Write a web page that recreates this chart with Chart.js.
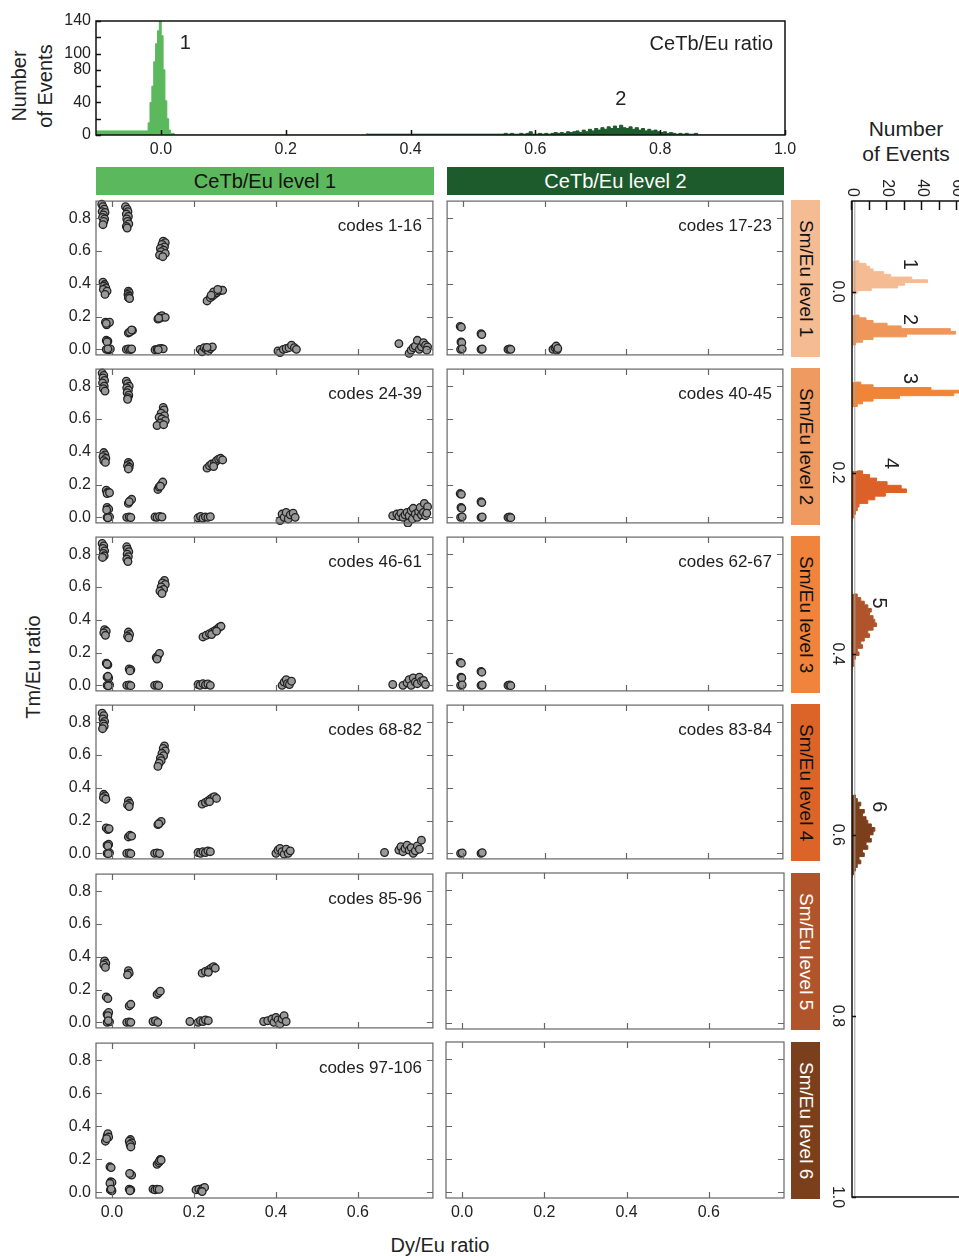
<!DOCTYPE html>
<html>
<head>
<meta charset="utf-8">
<script src="https://cdn.jsdelivr.net/npm/chart.js@4.4.1/dist/chart.umd.min.js"></script>
<style>
  body { margin: 0; background: #fff; overflow: hidden; }
  #page { position: relative; width: 959px; height: 1256px; overflow: hidden;
          font-family: "Liberation Sans", Arial, sans-serif; color: #222; }
  #page canvas { position: absolute; }
  .band { position: absolute; display: flex; align-items: center; justify-content: center; font-size: 20px; }
  .sm { position: absolute; left: 791px; width: 29px; height: 157px; writing-mode: vertical-rl;
        display: flex; align-items: center; justify-content: center; font-size: 19px; }
  .title { position: absolute; font-size: 20px; text-align: center; white-space: nowrap; }
</style>
</head>
<body>
<div id="page">
  <div class="title" style="left:-28px; top:60px; width:120px; line-height:26px; transform:rotate(-90deg);">Number<br>of Events</div>
  <div class="title" style="left:846px; top:116px; width:120px; line-height:25px; font-size:21px;">Number<br>of Events</div>
  <div class="title" style="left:-32px; top:655px; width:130px; line-height:24px; transform:rotate(-90deg);">Tm/Eu ratio</div>
  <div class="title" style="left:375px; top:1233px; width:130px; line-height:24px;">Dy/Eu ratio</div>

  <div class="band" style="left:96px; top:167px; width:338px; height:28px; background:#5cb85c; color:#111;">CeTb/Eu level 1</div>
  <div class="band" style="left:447px; top:167px; width:337px; height:28px; background:#1d5a2c; color:#fff;">CeTb/Eu level 2</div>

  <div class="sm" style="top:200px;  background:#f5bc94; color:#111;">Sm/Eu level 1</div>
  <div class="sm" style="top:368px;  background:#ee9a60; color:#111;">Sm/Eu level 2</div>
  <div class="sm" style="top:536px;  background:#f0843c; color:#111;">Sm/Eu level 3</div>
  <div class="sm" style="top:704px;  background:#dc6429; color:#111;">Sm/Eu level 4</div>
  <div class="sm" style="top:873px;  background:#b0552b; color:#fff;">Sm/Eu level 5</div>
  <div class="sm" style="top:1042px; background:#7b3f1b; color:#fff;">Sm/Eu level 6</div>
</div>
<script>
// CeTb/Eu histogram (top)
const cetbPeak1Start = -0.0205;
const cetbPeak1Width = 0.003;
const cetbPeak1Counts = [5, 15, 40, 60, 90, 112, 128, 140, 122, 80, 42, 20, 6, 2];
const cetbPeak2Start = 0.55;
const cetbPeak2Width = 0.005;
const cetbPeak2Counts = [1, 2, 1, 2, 1, 1, 2, 1, 2, 4, 1, 1, 2, 1, 2, 1, 2, 3, 2, 3,
                         2, 4, 3, 4, 5, 3, 6, 4, 7, 5, 8, 6, 9, 7, 10, 8, 11, 8, 12, 9,
                         8, 10, 7, 9, 6, 8, 5, 7, 5, 6, 4, 3, 4, 2, 3, 2, 1, 2, 1, 2, 1, 1];
const cetbFloor = 2;          // scattered single events along the baseline
const cetbSplit = 0.33;       // boundary between level 1 and level 2
const cetbXTicks = [0, 0.2, 0.4, 0.6, 0.8, 1.0];
const cetbYTicks = [0, 20, 40, 60, 80, 100, 120, 140];
const cetbYLabels = [0, 40, 80, 100, 140];

// Sm/Eu histogram (right, drawn sideways)
const smeuStarts = [-0.034, 0.026, 0.100, 0.198, 0.334, 0.556];
const smeuWidths = [0.003, 0.003, 0.003, 0.004, 0.004, 0.004];
const smeuCounts1 = [2, 4, 8, 10, 12, 18, 22, 34, 43, 30, 26, 11, 3];
const smeuCounts2 = [2, 4, 8, 12, 20, 28, 56, 59, 31, 12, 6, 2];
const smeuCounts3 = [2, 5, 12, 45, 66, 58, 27, 12, 6, 3];
const smeuCounts4 = [3, 6, 10, 14, 20, 28, 31, 19, 13, 9, 4, 3, 2, 1];
const smeuCounts5 = [1, 3, 5, 7, 9, 11, 10, 12, 13, 14, 12, 9, 10, 7, 5, 6, 3, 4, 2, 1, 1];
const smeuCounts6 = [1, 2, 3, 5, 4, 7, 6, 8, 9, 11, 13, 12, 10, 11, 8, 9, 6, 7, 4, 5, 3, 2, 1];
const smeuColors = ['#f5bc94', '#ef965a', '#f08437', '#dc6128', '#b0552b', '#7b3f1b'];
const smeuLabelRatio = [-0.030, 0.031, 0.096, 0.190, 0.344, 0.569];
const smeuLabelCount = [33, 33, 33, 22, 15, 15];
const smeuRatioTicks = [0, 0.2, 0.4, 0.6, 0.8, 1.0];
const smeuCountTicks = [0, 10, 20, 30, 40, 50, 60, 70, 80, 90];

// Dy/Eu vs Tm/Eu scatter panels, one list of [Dy/Eu, Tm/Eu] per code group
const dyTicks = [0, 0.2, 0.4, 0.6];
const tmTicks = [0, 0.2, 0.4, 0.6, 0.8];

const codes1to16 = [
  [-0.025,0.885],[-0.022,0.87],[-0.019,0.855],[-0.024,0.84],[-0.017,0.835],[-0.021,0.82],[-0.023,0.805],[-0.018,0.795],[-0.02,0.78],[-0.022,0.76],
  [0.033,0.87],[0.037,0.855],[0.039,0.84],[0.035,0.825],[0.04,0.81],[0.036,0.795],[0.038,0.78],[0.041,0.765],[0.035,0.75],[0.037,0.74],
  [0.125,0.66],[0.13,0.65],[0.122,0.64],[0.128,0.625],[0.118,0.615],[0.126,0.605],[0.12,0.595],[0.13,0.585],[0.116,0.575],[0.124,0.565],
  [-0.022,0.41],[-0.018,0.395],[-0.02,0.385],[-0.015,0.375],[-0.021,0.365],[-0.012,0.355],[-0.017,0.335],
  [0.04,0.355],[0.042,0.345],[0.039,0.335],[0.041,0.325],[0.04,0.315],[0.043,0.31],
  [0.232,0.295],[0.24,0.315],[0.245,0.325],[0.25,0.335],[0.255,0.345],[0.26,0.355],[0.265,0.36],[0.27,0.36],[0.248,0.35],[0.258,0.365],[0.242,0.33],
  [-0.016,0.165],[-0.01,0.16],[-0.013,0.15],[-0.006,0.165],[-0.014,0.158],
  [0.04,0.1],[0.045,0.11],[0.05,0.115],[0.043,0.105],[0.048,0.118],
  [0.112,0.185],[0.117,0.2],[0.122,0.205],[0.118,0.19],[0.13,0.195],[0.114,0.19],
  [-0.014,0.055],[-0.01,0.05],[-0.012,0.045],
  [-0.014,0.0],[-0.008,-0.003],[-0.004,0.002],[-0.01,0.003],
  [0.035,0.0],[0.04,0.003],[0.045,-0.002],[0.048,0.002],
  [0.105,-0.003],[0.11,0.0],[0.115,0.004],[0.12,0.006],[0.125,0.003],[0.113,-0.002],
  [0.215,0.0],[0.22,-0.015],[0.225,0.01],[0.23,0.0],[0.235,-0.01],[0.24,0.005],[0.245,0.015],[0.232,0.012],
  [0.405,-0.01],[0.41,-0.02],[0.418,0.0],[0.425,0.005],[0.432,0.01],[0.438,0.025],[0.445,0.01],[0.45,0.0],
  [0.7,0.035],[0.725,-0.025],[0.73,-0.005],[0.735,0.01],[0.74,0.02],[0.745,0.055],[0.75,0.0],[0.755,0.015],[0.76,0.04],[0.765,0.025],[0.77,0.015],[0.768,-0.005]
];
const codes17to23 = [
  [-0.007,0.14],[-0.004,0.135],[-0.005,0.045],[-0.003,0.04],[-0.006,0.0],[-0.002,0.003],
  [0.044,0.095],[0.046,0.09],[0.044,0.0],[0.047,0.002],
  [0.11,0.0],[0.114,0.003],[0.117,0.0],
  [0.22,0.0],[0.225,0.01],[0.23,-0.005],[0.228,0.02],[0.232,0.005]
];
const codes24to39 = [
  [-0.024,0.88],[-0.02,0.865],[-0.022,0.85],[-0.018,0.835],[-0.023,0.82],[-0.019,0.8],[-0.021,0.785],[-0.017,0.77],
  [0.035,0.83],[0.038,0.815],[0.042,0.8],[0.036,0.79],[0.04,0.775],[0.037,0.76],[0.041,0.745],[0.039,0.73],[0.038,0.72],
  [0.125,0.67],[0.127,0.655],[0.12,0.635],[0.128,0.62],[0.115,0.61],[0.122,0.6],[0.13,0.59],[0.118,0.575],[0.11,0.56],[0.126,0.565],
  [-0.02,0.395],[-0.017,0.38],[-0.022,0.37],[-0.015,0.36],[-0.02,0.345],[-0.016,0.335],
  [0.04,0.335],[0.043,0.325],[0.038,0.315],[0.042,0.305],[0.04,0.295],
  [0.232,0.3],[0.238,0.315],[0.243,0.325],[0.25,0.33],[0.255,0.345],[0.26,0.355],[0.265,0.36],[0.27,0.35],[0.248,0.31],
  [-0.014,0.165],[-0.01,0.155],[-0.012,0.145],[-0.006,0.15],
  [0.04,0.085],[0.044,0.1],[0.048,0.11],[0.042,0.095],
  [0.112,0.17],[0.115,0.185],[0.12,0.2],[0.124,0.215],[0.118,0.19],
  [-0.012,0.06],[-0.008,0.05],[-0.013,0.045],
  [-0.012,0.0],[-0.006,0.003],[-0.01,-0.003],
  [0.036,0.0],[0.042,0.003],[0.046,-0.001],
  [0.105,0.002],[0.11,0.0],[0.116,0.005],[0.122,0.002],
  [0.21,-0.003],[0.216,0.005],[0.222,-0.005],[0.228,0.003],[0.234,0.0],[0.24,0.004],
  [0.41,-0.02],[0.415,0.02],[0.42,0.0],[0.425,0.03],[0.43,-0.01],[0.435,0.015],[0.442,0.025],[0.447,0.0],
  [0.685,0.01],[0.695,0.02],[0.7,0.005],[0.705,0.025],[0.71,0.0],[0.715,0.015],[0.72,0.03],[0.722,-0.035],[0.725,0.01],[0.73,0.04],[0.733,-0.01],
  [0.735,0.055],[0.74,0.02],[0.745,0.0],[0.748,0.035],[0.752,0.06],[0.755,0.015],[0.76,0.03],[0.762,0.085],[0.765,0.01],[0.77,0.065],[0.768,0.025]
];
const codes40to45 = [
  [-0.007,0.145],[-0.004,0.14],[-0.005,0.06],[-0.003,0.055],[-0.006,0.0],[-0.002,0.003],
  [0.044,0.095],[0.046,0.09],[0.044,0.0],[0.047,0.002],
  [0.11,0.0],[0.114,0.003],[0.117,-0.002]
];
const codes46to61 = [
  [-0.024,0.865],[-0.02,0.85],[-0.022,0.835],[-0.018,0.82],[-0.021,0.805],[-0.019,0.79],[-0.023,0.78],
  [0.036,0.845],[0.038,0.83],[0.041,0.815],[0.037,0.8],[0.04,0.785],[0.036,0.77],[0.039,0.755],
  [0.128,0.64],[0.123,0.625],[0.13,0.615],[0.12,0.6],[0.126,0.585],[0.117,0.575],[0.122,0.56],
  [-0.018,0.34],[-0.014,0.33],[-0.02,0.32],[-0.016,0.305],
  [0.04,0.325],[0.043,0.31],[0.038,0.3],[0.041,0.29],
  [0.222,0.295],[0.23,0.305],[0.238,0.315],[0.245,0.325],[0.252,0.335],[0.258,0.345],[0.262,0.355],[0.266,0.36],[0.243,0.31],[0.255,0.33],
  [-0.014,0.135],[-0.01,0.125],[-0.012,0.13],
  [0.042,0.1],[0.046,0.095],[0.044,0.088],
  [0.108,0.17],[0.112,0.18],[0.116,0.195],[0.11,0.16],
  [-0.012,0.05],[-0.008,0.045],[-0.01,0.055],
  [-0.012,0.0],[-0.006,0.002],[-0.009,-0.003],
  [0.036,0.0],[0.042,0.002],[0.046,-0.002],
  [0.104,0.0],[0.11,0.002],[0.114,-0.002],
  [0.21,0.005],[0.215,0.0],[0.222,0.01],[0.228,0.003],[0.234,0.008],[0.24,0.0],
  [0.415,0.0],[0.42,0.02],[0.425,0.035],[0.428,0.01],[0.433,0.005],[0.438,0.025],
  [0.685,0.005],[0.71,0.0],[0.72,0.015],[0.725,0.035],[0.73,0.0],[0.735,0.045],[0.74,0.02],[0.745,0.01],[0.75,0.05],[0.755,0.025],[0.76,0.03],[0.765,0.005]
];
const codes62to67 = [
  [-0.007,0.14],[-0.004,0.135],[-0.005,0.05],[-0.003,0.045],[-0.006,0.0],[-0.002,0.003],
  [0.044,0.085],[0.046,0.08],[0.044,0.0],[0.047,0.002],
  [0.11,0.0],[0.114,0.003],[0.117,-0.002]
];
const codes68to82 = [
  [-0.024,0.855],[-0.02,0.84],[-0.022,0.82],[-0.018,0.805],[-0.021,0.79],[-0.019,0.775],[-0.023,0.76],
  [0.128,0.655],[0.125,0.64],[0.13,0.625],[0.122,0.61],[0.126,0.595],[0.118,0.58],[0.12,0.565],[0.115,0.55],[0.112,0.53],
  [-0.02,0.36],[-0.017,0.35],[-0.021,0.34],[-0.015,0.33],
  [0.04,0.32],[0.043,0.305],[0.038,0.295],[0.042,0.285],
  [0.22,0.3],[0.228,0.31],[0.234,0.32],[0.24,0.33],[0.245,0.34],[0.25,0.345],[0.255,0.335],[0.238,0.315],
  [-0.014,0.155],[-0.01,0.145],[-0.007,0.15],
  [0.04,0.1],[0.044,0.11],[0.048,0.105],
  [0.112,0.175],[0.116,0.185],[0.12,0.195],[0.114,0.18],
  [-0.012,0.05],[-0.008,0.055],[-0.01,0.045],
  [-0.012,0.0],[-0.006,0.003],[-0.009,-0.002],
  [0.036,0.0],[0.042,0.002],[0.046,-0.002],
  [0.104,0.0],[0.11,0.003],[0.116,-0.001],
  [0.21,0.005],[0.216,0.0],[0.222,0.01],[0.228,0.005],[0.234,0.015],[0.24,0.01],
  [0.4,0.0],[0.405,0.02],[0.41,0.03],[0.415,0.01],[0.42,-0.005],[0.425,0.025],[0.43,0.0],[0.435,0.015],
  [0.665,0.005],[0.7,0.02],[0.705,0.04],[0.71,0.01],[0.715,0.03],[0.72,0.05],[0.725,0.02],[0.73,0.035],[0.735,0.0],[0.74,0.015],[0.745,0.045],[0.75,0.025],[0.755,0.08]
];
const codes83to84 = [[-0.006,0.0],[-0.002,0.003],[0.044,0.0],[0.047,0.004]];
const codes85to96 = [
  [-0.018,0.375],[-0.015,0.36],[-0.02,0.35],[-0.016,0.335],
  [0.04,0.315],[0.042,0.3],[0.038,0.29],
  [0.22,0.3],[0.228,0.31],[0.236,0.32],[0.242,0.33],[0.248,0.34],[0.252,0.33],[0.235,0.305],
  [-0.014,0.155],[-0.01,0.145],
  [0.042,0.1],[0.046,0.11],
  [0.11,0.17],[0.114,0.18],[0.118,0.19],
  [-0.012,0.05],[-0.008,0.06],[-0.01,0.04],
  [-0.012,0.0],[-0.006,0.003],[-0.009,0.01],
  [0.036,0.0],[0.042,0.003],[0.046,0.0],
  [0.1,0.005],[0.106,0.01],[0.112,0.0],
  [0.19,0.005],[0.21,0.0],[0.216,0.01],[0.222,0.005],[0.228,0.015],[0.235,0.01],
  [0.37,0.005],[0.38,0.01],[0.39,0.02],[0.395,0.0],[0.4,0.03],[0.405,0.015],[0.41,-0.01],[0.415,0.02],[0.42,0.04],[0.425,0.005]
];
const codes97to106 = [
  [-0.016,0.31],[-0.012,0.34],[-0.01,0.355],[-0.008,0.335],[-0.013,0.325],
  [0.045,0.32],[0.042,0.31],[0.048,0.3],[0.044,0.29],[0.046,0.275],
  [0.11,0.17],[0.114,0.18],[0.118,0.2],[0.116,0.19],[0.12,0.195],
  [-0.005,0.155],[-0.002,0.15],
  [-0.003,0.065],[0.0,0.06],[-0.005,0.055],
  [-0.004,0.015],[0.0,0.01],[-0.002,0.02],
  [0.045,0.11],[0.048,0.105],[0.043,0.115],
  [0.042,0.02],[0.046,0.015],[0.044,0.01],
  [0.1,0.02],[0.105,0.015],[0.11,0.02],[0.115,0.018],
  [0.205,0.015],[0.212,0.02],[0.218,0.01],[0.222,0.025],[0.226,0.03],[0.22,0.005]
];

const panelRows = [
  [[codes1to16, 'codes 1-16'], [codes17to23, 'codes 17-23']],
  [[codes24to39, 'codes 24-39'], [codes40to45, 'codes 40-45']],
  [[codes46to61, 'codes 46-61'], [codes62to67, 'codes 62-67']],
  [[codes68to82, 'codes 68-82'], [codes83to84, 'codes 83-84']],
  [[codes85to96, 'codes 85-96'], [[], '']],
  [[codes97to106, 'codes 97-106'], [[], '']]
];

Chart.defaults.font.family = '"Liberation Sans", Arial, sans-serif';
Chart.defaults.font.size = 16;
Chart.defaults.color = '#222';

const page = document.getElementById('page');

// box frame with inward tick marks taken from each scale's ticks
const frameTicks = {
  id: 'frameTicks',
  afterDatasetsDraw(chart, args, opts) {
    const { ctx, chartArea: a, scales: { x, y } } = chart;
    ctx.save();
    ctx.strokeStyle = opts.color;
    ctx.lineWidth = opts.width;
    ctx.beginPath();
    x.ticks.forEach(t => {
      const px = Math.round(x.getPixelForValue(t.value)) + 0.5;
      ctx.moveTo(px, a.bottom); ctx.lineTo(px, a.bottom - opts.lenX);
      if (opts.mirror) { ctx.moveTo(px, a.top); ctx.lineTo(px, a.top + opts.lenX); }
    });
    y.ticks.forEach(t => {
      const py = Math.round(y.getPixelForValue(t.value)) + 0.5;
      ctx.moveTo(a.left, py); ctx.lineTo(a.left + opts.lenY, py);
      if (opts.mirror) { ctx.moveTo(a.right, py); ctx.lineTo(a.right - opts.lenY, py); }
    });
    ctx.stroke();
    ctx.strokeRect(a.left, a.top, a.right - a.left, a.bottom - a.top);
    ctx.restore();
  }
};

// free text, either at data coordinates or from the top-right corner
const textMarks = {
  id: 'textMarks',
  afterDatasetsDraw(chart, args, opts) {
    const { ctx, chartArea: a, scales } = chart;
    (opts.items || []).forEach(it => {
      ctx.save();
      ctx.font = (it.size || 17) + 'px "Liberation Sans", Arial, sans-serif';
      ctx.fillStyle = '#222';
      ctx.textAlign = it.align || 'center';
      ctx.textBaseline = it.baseline || 'middle';
      let px, py;
      if (it.corner) { px = a.right - it.dx; py = a.top + it.dy; }
      else { px = scales.x.getPixelForValue(it.x); py = scales.y.getPixelForValue(it.y); }
      ctx.fillText(it.text, px, py);
      ctx.restore();
    });
  }
};

function addCanvas(left, top, width, height) {
  const c = document.createElement('canvas');
  c.width = width; c.height = height;
  c.style.left = left + 'px'; c.style.top = top + 'px';
  c.style.width = width + 'px'; c.style.height = height + 'px';
  page.appendChild(c);
  return c;
}

function useTicks(values) {
  return s => { s.ticks = values.map(v => ({ value: v })); };
}
function fixWidth(w) {
  return s => { s.width = w; s.paddingTop = 0; s.paddingBottom = 0; };
}
function fixHeight(h) {
  return s => { s.height = h; s.paddingLeft = 0; s.paddingRight = 0; };
}

function stepPoints(start, width, counts, floor) {
  const pts = counts.map((c, i) => ({ x: start + i * width, y: c }));
  pts.push({ x: start + counts.length * width, y: floor });
  return pts;
}

function histSet(data, color) {
  return { data, stepped: 'after', fill: 'origin', backgroundColor: color, borderColor: color,
           borderWidth: 1, pointRadius: 0 };
}

const baseOptions = {
  responsive: false, animation: false, devicePixelRatio: 1,
  events: []
};

// ---- top histogram ----
{
  const canvas = addCanvas(50, 10, 750, 150);
  const level1 = [{ x: -0.104, y: cetbFloor },
    ...stepPoints(cetbPeak1Start, cetbPeak1Width, cetbPeak1Counts, cetbFloor),
    { x: cetbSplit, y: 0 }];
  const level2 = [{ x: cetbSplit, y: cetbFloor },
    ...stepPoints(cetbPeak2Start, cetbPeak2Width, cetbPeak2Counts, cetbFloor),
    { x: 1.0, y: 0 }];
  new Chart(canvas, {
    type: 'line',
    data: { datasets: [histSet(level1, '#5cb85c'), histSet(level2, '#1d5a2c')] },
    options: {
      ...baseOptions,
      layout: { padding: { left: 0, right: 15, top: 11, bottom: 0 } },
      plugins: {
        legend: { display: false }, tooltip: { enabled: false },
        frameTicks: { color: '#111', width: 1.5, lenX: 5, lenY: 5, mirror: false },
        textMarks: { items: [
          { text: '1', x: 0.039, y: 113, size: 20 },
          { text: '2', x: 0.737, y: 44, size: 20 },
          { text: 'CeTb/Eu ratio', corner: true, dx: 12, dy: 29, align: 'right', baseline: 'alphabetic', size: 20 }
        ] }
      },
      scales: {
        x: { type: 'linear', min: -0.104, max: 1.0,
             grid: { display: false, drawTicks: false }, border: { display: false },
             ticks: { padding: 5, autoSkip: false, callback: v => v.toFixed(1) },
             afterBuildTicks: useTicks(cetbXTicks), afterFit: fixHeight(25) },
        y: { type: 'linear', min: 0, max: 140,
             grid: { display: false, drawTicks: false }, border: { display: false },
             ticks: { padding: 5, autoSkip: false, callback: v => cetbYLabels.includes(v) ? String(v) : '' },
             afterBuildTicks: useTicks(cetbYTicks), afterFit: fixWidth(46) }
      }
    },
    plugins: [frameTicks, textMarks]
  });
}

// ---- scatter grid ----
const rowTops = [200, 368, 536, 704, 873, 1042];
const colLefts = [96, 446];
const plotW = 338, plotH = 156;

panelRows.forEach((row, r) => {
  row.forEach(([points, label], c) => {
    const leftW = c === 0 ? 46 : 4;
    const botH = r === panelRows.length - 1 ? 30 : 4;
    const canvas = addCanvas(colLefts[c] - leftW, rowTops[r] - 4, leftW + plotW + 4, 4 + plotH + botH);
    new Chart(canvas, {
      type: 'scatter',
      data: { datasets: [{
        data: points.map(p => ({ x: p[0], y: p[1] })),
        pointRadius: 3.8, pointHoverRadius: 3.8,
        backgroundColor: '#999999', borderColor: '#222222', borderWidth: 1.3, clip: 4
      }] },
      options: {
        ...baseOptions,
        layout: { padding: { left: 0, right: 4, top: 4, bottom: 0 } },
        plugins: {
          legend: { display: false }, tooltip: { enabled: false },
          frameTicks: { color: '#666', width: 1.2, lenX: 6, lenY: 6, mirror: true },
          textMarks: { items: label ? [
            { text: label, corner: true, dx: 11, dy: 30, align: 'right', baseline: 'alphabetic', size: 17 }
          ] : [] }
        },
        scales: {
          x: { type: 'linear', min: -0.039, max: 0.783,
               grid: { display: false, drawTicks: false }, border: { display: false },
               ticks: { display: r === panelRows.length - 1, autoSkip: false, padding: 5, callback: v => v.toFixed(1) },
               afterBuildTicks: useTicks(dyTicks), afterFit: fixHeight(botH) },
          y: { type: 'linear', min: -0.034, max: 0.904,
               grid: { display: false, drawTicks: false }, border: { display: false },
               ticks: { display: c === 0, autoSkip: false, padding: 5, callback: v => v.toFixed(1) },
               afterBuildTicks: useTicks(tmTicks), afterFit: fixWidth(leftW) }
        }
      },
      plugins: [frameTicks, textMarks]
    });
  });
});

// ---- Sm/Eu histogram, laid out normally then turned a quarter clockwise ----
{
  const W = 1045, H = 185;
  const canvas = addCanvas(0, 0, W, H);
  canvas.style.transformOrigin = '0 0';
  canvas.style.transform = 'translate(1010px, 170px) rotate(90deg)';
  const smeuCounts = [smeuCounts1, smeuCounts2, smeuCounts3, smeuCounts4, smeuCounts5, smeuCounts6];
  const sets = smeuCounts.map((counts, i) =>
    histSet(stepPoints(smeuStarts[i], smeuWidths[i], counts, 0), smeuColors[i]));
  sets.unshift({ data: [{ x: -0.1, y: 1.6 }, { x: 1.0, y: 1.6 }], borderColor: '#a0a0a0',
                 borderWidth: 1, pointRadius: 0, fill: false });
  new Chart(canvas, {
    type: 'line',
    data: { datasets: sets },
    options: {
      ...baseOptions,
      layout: { padding: { left: 0, right: 18, top: 0, bottom: 0 } },
      plugins: {
        legend: { display: false }, tooltip: { enabled: false },
        frameTicks: { color: '#111', width: 1.5, lenX: 4, lenY: 9, mirror: false },
        textMarks: { items: smeuLabelRatio.map((v, i) => ({ text: String(i + 1), x: v, y: smeuLabelCount[i], size: 20 })) }
      },
      scales: {
        x: { type: 'linear', min: -0.1, max: 1.0,
             grid: { display: false, drawTicks: false }, border: { display: false },
             ticks: { padding: 5, autoSkip: false, callback: v => v.toFixed(1) },
             afterBuildTicks: useTicks(smeuRatioTicks), afterFit: fixHeight(27) },
        y: { type: 'linear', min: 0, max: 90,
             grid: { display: false, drawTicks: false }, border: { display: false },
             ticks: { padding: 4, autoSkip: false, callback: v => v % 20 === 0 ? String(v) : '' },
             afterBuildTicks: useTicks(smeuCountTicks), afterFit: fixWidth(31) }
      }
    },
    plugins: [frameTicks, textMarks]
  });
}
</script>
</body>
</html>
